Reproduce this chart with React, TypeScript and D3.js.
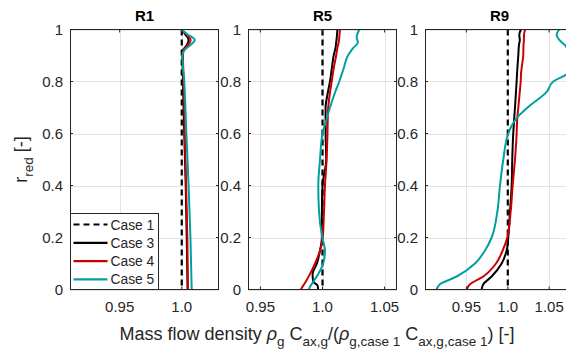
import { useEffect, useRef } from "react";
import * as d3 from "d3";

// panel titles and x-limits
const panelTitles = ["R1", "R5", "R9"];
const xLimits: [number, number][] = [
	[0.91, 1.03],
	[0.94, 1.06],
	[0.9, 1.08],
];
const xTickValues = [0.95, 1.0, 1.05];
const yTickValues = [0, 0.2, 0.4, 0.6, 0.8, 1];
const caseNames = ["Case 1", "Case 3", "Case 4", "Case 5"];

// R1 profiles
const rR1 = [1, 0.98, 0.96, 0.94, 0.92, 0.9, 0.8, 0.6, 0.4, 0.2, 0];
const case3R1 = [1.0, 1.003, 1.0055, 1.004, 1.001, 1.0005, 1.001, 1.002, 1.0032, 1.004, 1.0047];
const case4R1 = [1.0, 1.004, 1.0072, 1.005, 1.0015, 1.001, 1.0015, 1.0025, 1.0035, 1.0045, 1.005];
const case5R1 = [0.9995, 1.005, 1.0105, 1.007, 1.002, 1.0005, 1.002, 1.0037, 1.0055, 1.007, 1.008];

// R5 profiles
const rR5 = [1, 0.97, 0.95, 0.93, 0.9, 0.85, 0.8, 0.75, 0.7, 0.65, 0.6, 0.5, 0.4, 0.3, 0.2, 0.15, 0.1, 0.06, 0.03, 0.015, 0];
const case3R5 = [1.012, 1.0115, 1.011, 1.0105, 1.009, 1.0075, 1.006, 1.004, 1.0025, 1.0025, 1.0025, 1.003, 1.0, 0.9995, 0.9995, 0.998, 0.9955, 0.992, 0.9925, 0.996, 0.9965];
const case4R5 = [1.014, 1.0135, 1.013, 1.012, 1.011, 1.009, 1.0074, 1.0058, 1.0046, 1.0042, 1.004, 1.0033, 1.002, 1.0012, 1.0002, 0.998, 0.994, 0.99, 0.9865, 0.9845, 0.9825];
const case5R5 = [1.0297, 1.0275, 1.0285, 1.025, 1.0205, 1.017, 1.0135, 1.0095, 1.006, 1.003, 1.0, 0.998, 0.9966, 0.9972, 0.9998, 1.002, 1.0006, 0.9966, 0.9926, 0.9905, 0.989];

// R9 profiles
const rR9 = [1, 0.98, 0.96, 0.94, 0.9, 0.87, 0.83, 0.8, 0.76, 0.7, 0.66, 0.63, 0.6, 0.5, 0.4, 0.3, 0.2, 0.15, 0.1, 0.05, 0.02, 0];
const case3R9 = [1.0159, 1.0139, 1.0145, 1.0135, 1.0127, 1.012, 1.0112, 1.0107, 1.0099, 1.0087, 1.0078, 1.0072, 1.0066, 1.0054, 1.0047, 1.0027, 1.0006, 0.9986, 0.9926, 0.9805, 0.9704, 0.9684];
const case4R9 = [1.0211, 1.0196, 1.0195, 1.019, 1.0187, 1.0175, 1.016, 1.0156, 1.0145, 1.0127, 1.0115, 1.011, 1.0107, 1.0087, 1.0059, 1.0035, 0.9994, 0.9938, 0.9858, 0.9704, 0.9543, 0.9504];
const case5R9 = [1.0622, 1.059, 1.0622, 1.069, 1.076, 1.078, 1.072, 1.055, 1.047, 1.024, 1.011, 1.0047, 1.0006, 0.9946, 0.9906, 0.9874, 0.9805, 0.9725, 0.9604, 0.9383, 0.918, 0.914];

const panelR = [rR1, rR5, rR9];
const panelSeries = [
	[case3R1, case4R1, case5R1],
	[case3R5, case4R5, case5R5],
	[case3R9, case4R9, case5R9],
];

const FONT = "'Liberation Sans', Arial, Helvetica, sans-serif";
const TEXT = "#262626";
const caseColors = ["#000000", "#000000", "#cc0000", "#00a0a0"];

const App = () => {
	const svgRef = useRef<SVGSVGElement>(null);

	useEffect(() => {
		if (!svgRef.current) return;
		const width = 566;
		const height = 354;
		const svg = d3.select(svgRef.current).attr("width", width).attr("height", height);
		svg.selectAll("*").remove();

		const panelLeft = [70, 248, 425];
		const panelW = 149;
		const top = 29.5;
		const bottom = 289.5;

		const y = d3.scaleLinear().domain([0, 1]).range([bottom, top]);

		panelTitles.forEach((title, i) => {
			const x = d3
				.scaleLinear()
				.domain(xLimits[i])
				.range([panelLeft[i], panelLeft[i] + panelW]);
			const g = svg.append("g");
			const x0 = panelLeft[i];
			const x1 = panelLeft[i] + panelW;

			// white background
			g.append("rect")
				.attr("x", x0)
				.attr("y", top)
				.attr("width", panelW)
				.attr("height", bottom - top)
				.attr("fill", "#fff");

			const xTicks = xTickValues.filter((v) => v >= xLimits[i][0] && v <= xLimits[i][1]);

			// grid
			g.selectAll(".gx")
				.data(xTicks)
				.enter()
				.append("line")
				.attr("x1", (d) => Math.round(x(d)) + 0.5)
				.attr("x2", (d) => Math.round(x(d)) + 0.5)
				.attr("y1", top)
				.attr("y2", bottom)
				.attr("stroke", "#e3e3e3")
				.attr("stroke-width", 1);
			g.selectAll(".gy")
				.data(yTickValues)
				.enter()
				.append("line")
				.attr("x1", x0)
				.attr("x2", x1)
				.attr("y1", (d) => Math.round(y(d)) + 0.5)
				.attr("y2", (d) => Math.round(y(d)) + 0.5)
				.attr("stroke", "#e3e3e3")
				.attr("stroke-width", 1);

			// clip
			const clipId = `clip-${i}`;
			svg.append("clipPath")
				.attr("id", clipId)
				.append("rect")
				.attr("x", x0)
				.attr("y", top - 1)
				.attr("width", panelW)
				.attr("height", bottom - top + 2);

			const lines = g.append("g").attr("clip-path", `url(#${clipId})`);

			// Case 1 reference
			lines
				.append("line")
				.attr("x1", x(1))
				.attr("x2", x(1))
				.attr("y1", y(1))
				.attr("y2", y(0))
				.attr("stroke", caseColors[0])
				.attr("stroke-width", 2.2)
				.attr("stroke-dasharray", "6,4");

			const rs = panelR[i];
			const line = d3
				.line<number>()
				.x((d) => x(d))
				.y((_, k) => y(rs[k]))
				.curve(d3.curveMonotoneY);

			panelSeries[i].forEach((vals, s) => {
				lines
					.append("path")
					.attr("d", line(vals)!)
					.attr("fill", "none")
					.attr("stroke", caseColors[s + 1])
					.attr("stroke-width", 2)
					.attr("stroke-linejoin", "round");
			});

			// box
			g.append("rect")
				.attr("x", x0 + 0.5)
				.attr("y", top)
				.attr("width", panelW - 1)
				.attr("height", bottom - top)
				.attr("fill", "none")
				.attr("stroke", TEXT)
				.attr("stroke-width", 1);

			// ticks (inward)
			xTicks.forEach((v) => {
				g.append("line")
					.attr("x1", x(v)).attr("x2", x(v))
					.attr("y1", bottom).attr("y2", bottom - 3)
					.attr("stroke", TEXT);
				g.append("line")
					.attr("x1", x(v)).attr("x2", x(v))
					.attr("y1", top).attr("y2", top + 3)
					.attr("stroke", TEXT);
			});
			yTickValues.forEach((v) => {
				g.append("line")
					.attr("x1", x0).attr("x2", x0 + 3)
					.attr("y1", y(v)).attr("y2", y(v))
					.attr("stroke", TEXT);
				g.append("line")
					.attr("x1", x1).attr("x2", x1 - 3)
					.attr("y1", y(v)).attr("y2", y(v))
					.attr("stroke", TEXT);
			});

			// tick labels
			g.selectAll(".xt")
				.data(xTicks)
				.enter()
				.append("text")
				.attr("x", (d) => x(d))
				.attr("y", bottom + 22)
				.attr("text-anchor", "middle")
				.style("font-family", FONT)
				.style("font-size", "15px")
				.attr("fill", TEXT)
				.text((d) => (d === 1 ? "1.0" : d3.format(".2f")(d)));
			g.selectAll(".yt")
				.data(yTickValues)
				.enter()
				.append("text")
				.attr("x", x0 - 7)
				.attr("y", (d) => y(d) + 5)
				.attr("text-anchor", "end")
				.style("font-family", FONT)
				.style("font-size", "15px")
				.attr("fill", TEXT)
				.text((d) => (d === 0 || d === 1 ? String(d) : d3.format(".1f")(d)));

			// title
			g.append("text")
				.attr("x", (x0 + x1) / 2)
				.attr("y", 21)
				.attr("text-anchor", "middle")
				.style("font-family", FONT)
				.style("font-size", "15px")
				.style("font-weight", "bold")
				.attr("fill", "#000")
				.text(title);
		});

		// legend
		const lg = svg.append("g");
		const lx = 70.5;
		const ly = 213.5;
		lg.append("rect")
			.attr("x", lx)
			.attr("y", ly)
			.attr("width", 88)
			.attr("height", 76)
			.attr("fill", "#fff")
			.attr("stroke", TEXT)
			.attr("stroke-width", 1);
		caseNames.forEach((name, k) => {
			const yy = ly + 11 + k * 18.3;
			lg.append("line")
				.attr("x1", lx + 3)
				.attr("x2", lx + 37)
				.attr("y1", yy)
				.attr("y2", yy)
				.attr("stroke", caseColors[k])
				.attr("stroke-width", 2.2)
				.attr("stroke-dasharray", k === 0 ? "6,4" : null);
			lg.append("text")
				.attr("x", lx + 40)
				.attr("y", yy + 5)
				.style("font-family", FONT)
				.style("font-size", "13.8px")
				.attr("fill", TEXT)
				.text(name);
		});

		// x label
		const xl = svg
			.append("text")
			.attr("x", 317)
			.attr("y", 340)
			.attr("text-anchor", "middle")
			.style("font-family", FONT)
			.style("font-size", "18px")
			.attr("fill", TEXT);
		const parts: [string, "n" | "s" | "g"][] = [
			["Mass flow density ", "n"],
			["ρ", "g"],
			["g", "s"],
			[" C", "n"],
			["ax,g", "s"],
			["/(", "n"],
			["ρ", "g"],
			["g,case 1", "s"],
			[" C", "n"],
			["ax,g,case 1", "s"],
			[") [-]", "n"],
		];
		let sub = false;
		parts.forEach(([t, kind]) => {
			const ts = xl.append("tspan").text(t);
			if (kind === "s" && !sub) {
				ts.attr("dy", 6).style("font-size", "13.5px");
				sub = true;
			} else if (kind === "s") {
				ts.style("font-size", "13.5px");
			} else {
				if (sub) ts.attr("dy", -6);
				sub = false;
				if (kind === "g") ts.style("font-style", "italic");
			}
		});

		// y label
		const yl = svg
			.append("text")
			.attr("transform", `translate(27, ${(top + bottom) / 2}) rotate(-90)`)
			.attr("text-anchor", "middle")
			.style("font-family", FONT)
			.style("font-size", "18px")
			.attr("fill", TEXT);
		yl.append("tspan").text("r");
		yl.append("tspan").attr("dy", 6).style("font-size", "13.5px").text("red");
		yl.append("tspan").attr("dy", -6).text(" [-]");
	}, []);

	return (
		<svg
			ref={svgRef}
			style={{ position: "absolute", left: 0, top: 0, background: "#fff" }}
		/>
	);
};

export default App;
